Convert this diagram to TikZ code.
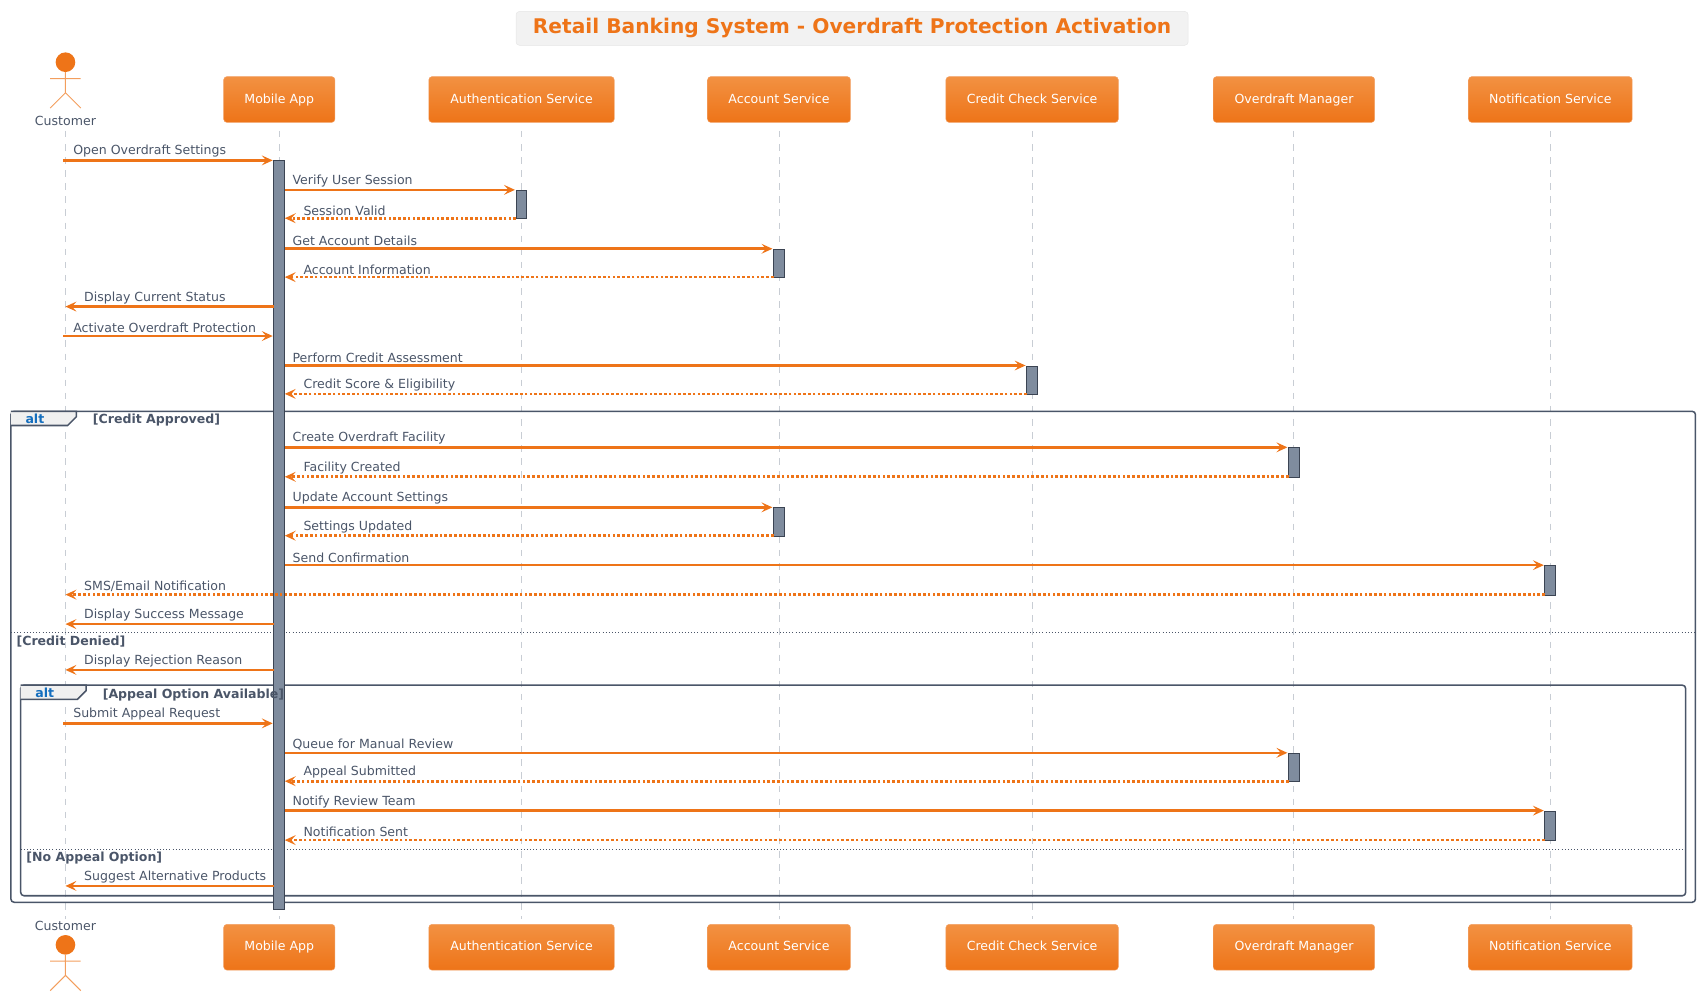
\documentclass[tikz,border=0pt]{standalone}
\usepackage{fontspec}
\setmainfont{DejaVu Sans}
\usetikzlibrary{arrows.meta}
\definecolor{org}{HTML}{EE7418}
\definecolor{txt}{HTML}{4A5568}
\definecolor{actf}{HTML}{7F8C9E}
\definecolor{life}{HTML}{C8CDD4}
\tikzset{
 x=1pt,y=-1pt,
 part/.style={rounded corners=3pt,bottom color=org,top color={rgb,255:red,242;green,145;blue,66},draw={rgb,255:red,242;green,160;blue,100},text=white,font=\fontsize{11.5}{13}\selectfont,minimum height=42pt,anchor=north,text height=9pt,text depth=2.5pt},
 msg/.style={org,line width=2.4pt,-{Stealth[length=10pt,width=9pt,inset=4pt]}},
 ret/.style={msg,dotted},
 lbl/.style={text=txt,font=\fontsize{11.5}{13}\selectfont,anchor=south west,inner sep=1pt},
 act/.style={fill=actf,draw=txt!80!black,line width=0.9pt},
 frm/.style={draw=txt,line width=1.4pt,rounded corners=3pt},
 guard/.style={text=txt,font=\bfseries\fontsize{11.5}{13}\selectfont,anchor=west,inner sep=0pt},
}
\newcommand{\mymsg}[5][msg]{\coordinate (s) at (#3,#2);\coordinate (e) at (#4,#2);\draw[#1] (s) -- (e);}
\newcommand{\mylbl}[3]{\node[lbl] at (#1,#2-1.5) {#3};}
\newcommand{\myact}[3]{\node[act,minimum width=10pt,minimum height={#3-#2},inner sep=0pt,anchor=north] at (#1,#2) {};}
\newcommand{\myactor}[2]{\fill[org] (#1,#2) circle (9);
 \draw[org!70!white,line width=0.9pt] (#1,#2+9) -- (#1,#2+28) (#1-14,#2+15) -- (#1+14,#2+15) (#1-14,#2+42) -- (#1,#2+28) -- (#1+14,#2+42);}
\begin{document}
\begin{tikzpicture}
\useasboundingbox (0,0) rectangle (1560,914);
% title
\node[draw=black!10,fill=black!5,rounded corners=3pt,text=org,font=\bfseries\fontsize{18.5}{22}\selectfont,minimum width=616pt,minimum height=31pt] (title) at (781,26) {Retail Banking System - Overdraft Protection Activation};
% lifelines
\foreach \n/\x in {C/60,M/256,A/478,Ac/714,Cr/946,O/1186,N/1421}{
 \coordinate (\n top) at (\x,120); \coordinate (\n bot) at (\x,842);
 \draw[life,line width=0.9pt,dash pattern=on 6pt off 6pt] (\n top) -- (\n bot);}
% participants
\foreach \n/\x/\w/\t in {M/256/102/Mobile App,A/478/170/Authentication Service,Ac/714/131/Account Service,Cr/946/158/Credit Check Service,O/1186/148/Overdraft Manager,N/1421/150/Notification Service}{
 \node[part,minimum width=\w pt] (\n box1) at (\x,70) {\t};
 \node[part,minimum width=\w pt] (\n box2) at (\x,847) {\t};}
\myactor{60}{57}
\node[text=txt,font=\fontsize{11.5}{13}\selectfont] (cust1) at (60,111) {Customer};
\myactor{60}{866}
\node[text=txt,font=\fontsize{11.5}{13}\selectfont] (cust2) at (60,849) {Customer};
% frames
\draw[frm] (10,377) rectangle (1554,827);
\draw[frm,fill=black!6,rounded corners=0pt] (10,377) -- (70,377) -- (70,382) -- (62,390) -- (10,390);
\node[text={rgb,255:red,20;green,110;blue,190},font=\bfseries\fontsize{11.5}{13}\selectfont] (alt1) at (32,384) {alt};
\draw[txt,dotted,line width=0.9pt] (10,580) -- (1554,580);
\draw[frm] (19,628) rectangle (1545,821);
\draw[frm,fill=black!6,rounded corners=0pt] (19,628) -- (79,628) -- (79,633) -- (71,641) -- (19,641);
\node[text={rgb,255:red,20;green,110;blue,190},font=\bfseries\fontsize{11.5}{13}\selectfont] (alt2) at (41,635) {alt};
\draw[txt,dotted,line width=0.9pt] (19,779) -- (1545,779);
% activations
\myact{256}{147}{833}
\myact{478}{174}{200}
\myact{714}{228}{254}
\myact{946}{335}{361}
\myact{1186}{410}{437}
\myact{714}{465}{491}
\myact{1421}{518}{545}
\myact{1186}{690}{716}
\myact{1421}{743}{770}
% guards
\node[guard] (g1) at (85,385) {[Credit Approved]};
\node[guard] (g2) at (15,588) {[Credit Denied]};
\node[guard] (g3) at (94,637) {[Appeal Option Available]};
\node[guard] (g4) at (24,786) {[No Appeal Option]};
% messages
\mymsg{147}{58}{250}{}\mylbl{66}{147}{Open Overdraft Settings}
\mymsg{174}{261}{472}{}\mylbl{267}{174}{Verify User Session}
\mymsg[ret]{200}{473}{261}{}\mylbl{277}{200}{Session Valid}
\mymsg{228}{261}{708}{}\mylbl{267}{228}{Get Account Details}
\mymsg[ret]{254}{709}{261}{}\mylbl{277}{254}{Account Information}
\mymsg{281}{251}{60}{}\mylbl{76}{281}{Display Current Status}
\mymsg{308}{58}{250}{}\mylbl{66}{308}{Activate Overdraft Protection}
\mymsg{335}{261}{940}{}\mylbl{267}{335}{Perform Credit Assessment}
\mymsg[ret]{361}{941}{261}{}\mylbl{277}{361}{Credit Score \& Eligibility}
\mymsg{410}{261}{1180}{}\mylbl{267}{410}{Create Overdraft Facility}
\mymsg[ret]{437}{1181}{261}{}\mylbl{277}{437}{Facility Created}
\mymsg{465}{261}{708}{}\mylbl{267}{465}{Update Account Settings}
\mymsg[ret]{491}{709}{261}{}\mylbl{277}{491}{Settings Updated}
\mymsg{518}{261}{1415}{}\mylbl{267}{518}{Send Confirmation}
\mymsg[ret]{545}{1416}{60}{}\mylbl{76}{545}{SMS/Email Notification}
\mymsg{572}{251}{60}{}\mylbl{76}{572}{Display Success Message}
\mymsg{614}{251}{60}{}\mylbl{76}{614}{Display Rejection Reason}
\mymsg{663}{58}{250}{}\mylbl{66}{663}{Submit Appeal Request}
\mymsg{690}{261}{1180}{}\mylbl{267}{690}{Queue for Manual Review}
\mymsg[ret]{716}{1181}{261}{}\mylbl{277}{716}{Appeal Submitted}
\mymsg{743}{261}{1415}{}\mylbl{267}{743}{Notify Review Team}
\mymsg[ret]{770}{1416}{261}{}\mylbl{277}{770}{Notification Sent}
\mymsg{812}{251}{60}{}\mylbl{76}{812}{Suggest Alternative Products}
\end{tikzpicture}
\end{document}
